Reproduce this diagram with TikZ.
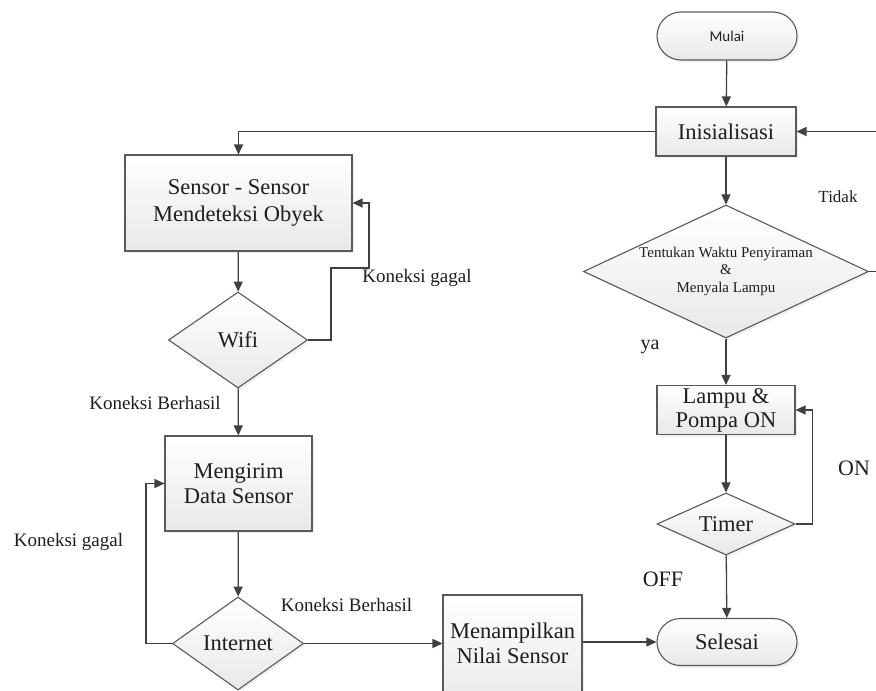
\documentclass[tikz,border=0pt]{standalone}
\usepackage{fontspec}
\setmainfont{Liberation Serif}
\newfontfamily\calib{Carlito}
\usetikzlibrary{arrows.meta,shapes.geometric,shapes.misc,shadows}
\definecolor{lncol}{HTML}{404040}
\definecolor{bdcol}{HTML}{5A5A5A}
\definecolor{txcol}{HTML}{1E1E1E}
\begin{document}
\begin{tikzpicture}[x=1pt,y=-1pt,
  every node/.style={text=txcol},
  shaded/.style={draw=bdcol, line width=1.1pt, top color=white, bottom color=black!9,
    drop shadow={opacity=0.12,shadow xshift=2pt,shadow yshift=-2pt}},
  box/.style={rectangle, shaded, inner sep=0pt, align=center, font=\fontsize{22.5}{25}\selectfont},
  term/.style={rounded rectangle, shaded, inner sep=0pt, align=center, font=\fontsize{22.5}{25}\selectfont},
  dia/.style={diamond, shaded, inner sep=0pt},
  txt/.style={align=center, font=\fontsize{22.5}{25}\selectfont},
  lbl/.style={font=\fontsize{19}{22}\selectfont},
  arr/.style={draw=lncol, line width=1.3pt, -{Triangle[length=10pt,width=9pt]}},
  conn/.style={draw=lncol, line width=1.3pt}
]
\useasboundingbox (0,0) rectangle (876,691);
\fill[white] (0,0) rectangle (876,691);
\clip (0,0) rectangle (876,691);

% right column
\node[term, minimum width=140, minimum height=48, font=\calib\fontsize{15}{18}\selectfont] (mulai) at (727,36) {Mulai};
\node[box, minimum width=140, minimum height=49] (init) at (726,131.5) {Inisialisasi};
\node[dia, minimum width=285, minimum height=133] (cond) at (726,271.5) {};
\node[txt, font=\fontsize{15}{17.5}\selectfont] (condtext) at (726,271) {Tentukan Waktu Penyiraman\\\&\\Menyala Lampu};
\node[box, minimum width=138, minimum height=49, font=\fontsize{22.5}{24}\selectfont] (lampu) at (726,410) {Lampu \&\\Pompa ON};
\node[dia, minimum width=138, minimum height=62] (timer) at (726,524) {};
\node[txt] (timertext) at (726,524) {Timer};
\node[term, minimum width=140, minimum height=47] (selesai) at (727,642) {Selesai};

% middle
\node[box, minimum width=139, minimum height=115] (tampilbox) at (512.5,652.5) {};
\node[txt] (tampil) at (512.5,643) {Menampilkan\\Nilai Sensor};

% left column
\node[box, minimum width=227, minimum height=96, font=\fontsize{22.5}{27}\selectfont] (sensor) at (238.5,203) {Sensor - Sensor\\Mendeteksi Obyek};
\node[dia, minimum width=139, minimum height=96] (wifi) at (238,340) {};
\node[txt] (wifitext) at (238,340) {Wifi};
\node[box, minimum width=147, minimum height=95] (kirim) at (238.5,483.5) {Mengirim\\Data Sensor};
\node[dia, minimum width=131, minimum height=93] (internet) at (238,643.5) {};
\node[txt] (internettext) at (238,643) {Internet};

% labels
\node[lbl] (lg1) at (417,278) {Koneksi gagal};
\node[lbl] (lb1) at (155,403) {Koneksi Berhasil};
\node[lbl] (lg2) at (68.5,542) {Koneksi gagal};
\node[lbl] (lb2) at (346.5,605) {Koneksi Berhasil};
\node[font=\fontsize{17}{20}\selectfont] (tidak) at (838,197) {Tidak};
\node[font=\fontsize{20}{22}\selectfont] (ya) at (650,347) {ya};
\node[font=\fontsize{22}{24}\selectfont] (on) at (854,468) {ON};
\node[font=\fontsize{22}{24}\selectfont] (off) at (663,579) {OFF};

% connectors
\draw[arr] (mulai) -- (init);
\draw[arr] (init) -- (cond);
\draw[arr] (cond) -- (lampu);
\draw[arr] (lampu) -- (timer);
\draw[arr] (timer) -- (selesai);
\draw[arr] (timer.east) -- ++(17,0) |- (lampu.east);
\draw[arr] (cond.east) -- (884,271.5) |- (init.east);
\draw[arr] (init.west) -| (sensor.north);
\draw[arr] (sensor) -- (wifi);
\draw[arr] (wifi) -- (kirim);
\draw[arr] (kirim) -- (internet);
\draw[arr] (wifi.east) -| (331,268) -| (369,203) -- (sensor.east);
\draw[arr] (internet.west) -- ++(-26,0) |- (kirim.west);
\draw[arr] (internet.east) -- (internet.east -| tampilbox.west);
\draw[arr] (tampilbox.east |- selesai.west) -- (selesai.west);
\end{tikzpicture}
\end{document}
